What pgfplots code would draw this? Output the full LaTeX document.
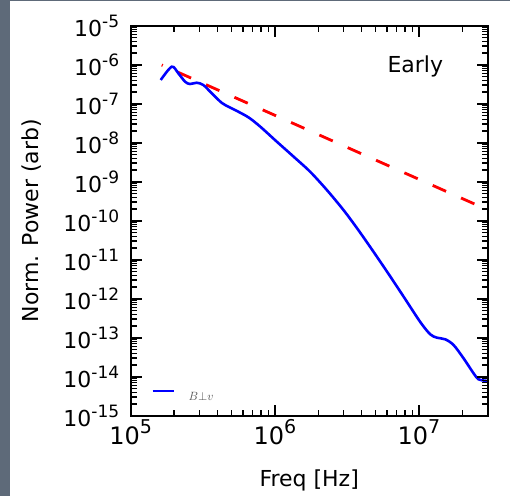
\documentclass[border=0pt]{standalone}
\usepackage{fontspec}
\setmainfont{DejaVu Sans}
\usepackage{pgfplots}
\pgfplotsset{compat=1.18}
\definecolor{slate}{HTML}{5E6A79}
% tick labels as text: 10 with a raised exponent
\newcommand{\xe}[1]{10\raisebox{11.5bp}{\fontsize{19bp}{19bp}\selectfont #1}}
\newcommand{\ye}[1]{10\raisebox{9bp}{\fontsize{17bp}{17bp}\selectfont #1}}

\begin{document}
\begin{tikzpicture}
\fill[white] (-130.7bp,-80.3bp) rectangle (379.3bp,415.7bp);
\fill[slate] (-130.7bp,-80.3bp) rectangle (-120.7bp,415.7bp);
\fill[slate] (-130.7bp,414.7bp) rectangle (379.3bp,415.7bp);
\begin{axis}[
    xmode=log, ymode=log,
    scale only axis,
    width=357bp, height=390bp,
    xmin=1e5, xmax=3e7,
    ymin=1e-15, ymax=1e-5,
    axis on top,
    xtick={1e5,1e6,1e7},
    xticklabels={\xe{5},\xe{6},\xe{7}},
    minor xtick={2e5,3e5,4e5,5e5,6e5,7e5,8e5,9e5,2e6,3e6,4e6,5e6,6e6,7e6,8e6,9e6,2e7,3e7},
    ytick={1e-15,1e-14,1e-13,1e-12,1e-11,1e-10,1e-9,1e-8,1e-7,1e-6,1e-5},
    yticklabels={\ye{-15},\ye{-14},\ye{-13},\ye{-12},\ye{-11},\ye{-10},\ye{-9},\ye{-8},\ye{-7},\ye{-6},\ye{-5}},
    minor ytick={
      2e-15,3e-15,4e-15,5e-15,6e-15,7e-15,8e-15,9e-15,
      2e-14,3e-14,4e-14,5e-14,6e-14,7e-14,8e-14,9e-14,
      2e-13,3e-13,4e-13,5e-13,6e-13,7e-13,8e-13,9e-13,
      2e-12,3e-12,4e-12,5e-12,6e-12,7e-12,8e-12,9e-12,
      2e-11,3e-11,4e-11,5e-11,6e-11,7e-11,8e-11,9e-11,
      2e-10,3e-10,4e-10,5e-10,6e-10,7e-10,8e-10,9e-10,
      2e-9,3e-9,4e-9,5e-9,6e-9,7e-9,8e-9,9e-9,
      2e-8,3e-8,4e-8,5e-8,6e-8,7e-8,8e-8,9e-8,
      2e-7,3e-7,4e-7,5e-7,6e-7,7e-7,8e-7,9e-7,
      2e-6,3e-6,4e-6,5e-6,6e-6,7e-6,8e-6,9e-6},
    xticklabel style={font=\fontsize{24bp}{24bp}\selectfont},
    yticklabel style={font=\fontsize{22bp}{22bp}\selectfont, xshift=-8bp},
    tick align=inside,
    tick pos=both,
    major tick length=11bp,
    minor tick length=6bp,
    every tick/.style={black, line width=1.8bp},
    every minor tick/.style={black, line width=1.4bp},
    axis line style={line width=2bp},
    xlabel={Freq [Hz]},
    ylabel={Norm. Power (arb)},
    every axis x label/.style={at={(axis description cs:0.5,-0.1803)}, anchor=base, font=\fontsize{22bp}{22bp}\selectfont},
    every axis y label/.style={at={(axis description cs:-0.2773,0.5)}, rotate=90, anchor=center, font=\fontsize{22bp}{22bp}\selectfont},
    legend style={draw=none, fill=none, at={(axis description cs:0.0588,0.051)}, anchor=west,
        inner sep=0pt, outer sep=0pt, column sep=14bp, nodes={inner sep=0pt},
        font=\fontsize{12bp}{12bp}\selectfont, text=black!70},
    legend image code/.code={\draw[#1, line width=2bp] (0bp,6bp) -- (21bp,6bp);},
]
\addplot[red, line width=2.8bp, dash pattern=on 14.6bp off 16.4bp, dash phase=13.5bp, forget plot]
    coordinates {(1.642e5,9.82e-7) (3.0e7,1.9e-10)};
\addplot[blue, line width=2.6bp, smooth, tension=0.5] table {
x y
1.6155e5 4.055e-7
1.926e5 8.89e-7
2.141e5 6.01e-7
2.384e5 3.66e-7
2.581e5 3.20e-7
2.873e5 3.45e-7
3.193e5 3.01e-7
3.652e5 1.85e-7
4.284e5 1.05e-7
4.850e5 8.10e-8
5.301e5 6.89e-8
6.556e5 4.48e-8
7.906e5 2.60e-8
1.033e6 1.06e-8
1.346e6 4.43e-9
1.759e6 1.80e-9
2.297e6 6.12e-10
2.995e6 1.88e-10
3.710e6 6.50e-11
4.590e6 2.12e-11
5.997e6 4.98e-12
7.818e6 1.138e-12
1.021e7 2.53e-13
1.198e7 1.22e-13
1.334e7 1.0e-13
1.522e7 9.10e-14
1.739e7 6.50e-14
2.040e7 2.96e-14
2.394e7 1.22e-14
2.594e7 8.57e-15
2.887e7 7.89e-15
3.03e7 7.76e-15
};
\addlegendentry{$B{\perp}v$}
\node[anchor=base west, font=\fontsize{22bp}{22bp}\selectfont, inner sep=0pt]
    at (axis description cs:0.7188,0.8805) {Early};
\end{axis}
\end{tikzpicture}
\end{document}
